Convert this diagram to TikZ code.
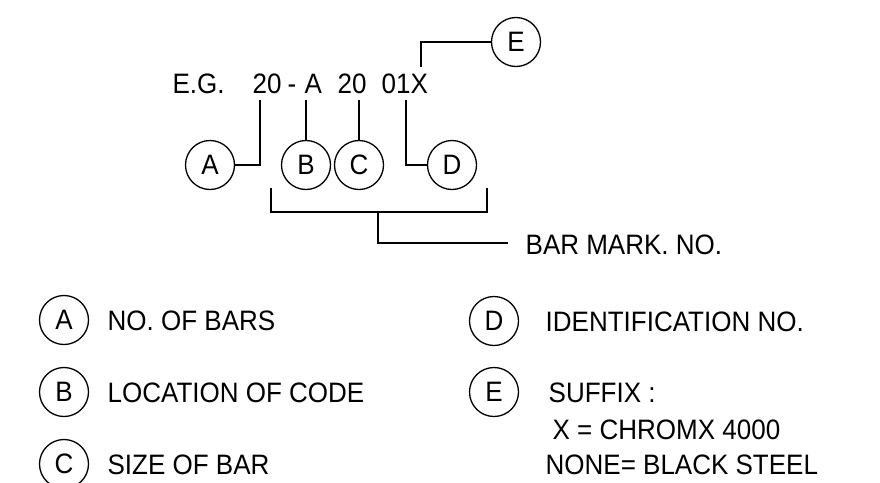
\documentclass[tikz,border=0pt]{standalone}
\usepackage{fontspec}
\usepackage{graphicx}
\setmainfont{Liberation Sans}
\newcommand{\vst}[1]{\scalebox{1}[1.08]{#1}}
\begin{document}
\begin{tikzpicture}[x=1pt,y=-1pt,line width=1.3pt,
  tag/.style={circle,draw,line width=1.3pt,minimum size=49pt,inner sep=0pt,font=\fontsize{26}{31}\selectfont},
  txt/.style={anchor=base west,inner sep=0pt,font=\fontsize{26}{31}\selectfont}]
\useasboundingbox (0,0) rectangle (880,482);
% example code
\node[txt] (eg) at (172,93) {\vst{E.G.}};
\node[txt] (n20a) at (252,93) {\vst{20}};
\node[txt] (dash) at (287,93) {\vst{-}};
\node[txt] (la) at (304,93) {\vst{A}};
\node[txt] (n20b) at (337,93) {\vst{20}};
\node[txt] (n01x) at (381,93) {\vst{01X}};
% circles
\node[tag] (A) at (210,165) {\vst{A}};
\node[tag] (B) at (306,165) {\vst{B}};
\node[tag] (C) at (359,165) {\vst{C}};
\node[tag] (D) at (452,165) {\vst{D}};
\node[tag] (E) at (516,42) {\vst{E}};
% leader start points
\coordinate (pa) at (260,100);
\coordinate (pb) at (306,100);
\coordinate (pc) at (359,100);
\coordinate (pd) at (406,100);
\coordinate (pe) at (421,67);
\draw (pa) |- (A.east);
\draw (pb) -- (B.north);
\draw (pc) -- (C.north);
\draw (pd) |- (D.west);
\draw (pe) |- (E.west);
% bracket
\coordinate (bl) at (271,188);
\coordinate (br) at (487,188);
\coordinate (bll) at (271,212);
\coordinate (brl) at (487,212);
\coordinate (bm) at (378,212);
\coordinate (bend) at (508,243);
\draw (bl) -- (bll) -- (brl) -- (br);
\draw (bm) |- (bend);
\node[txt] (bar) at (525,254) {\vst{BAR MARK. NO.}};
% legend
\node[tag] (LA) at (64,320) {\vst{A}};
\node[tag] (LB) at (64,392) {\vst{B}};
\node[tag] (LC) at (64,464) {\vst{C}};
\node[tag] (LD) at (494,321) {\vst{D}};
\node[tag] (LE) at (494,392) {\vst{E}};
\node[txt] (ta) at (107,330) {\vst{NO. OF BARS}};
\node[txt] (tb) at (107,402) {\vst{LOCATION OF CODE}};
\node[txt] (tc) at (107,474) {\vst{SIZE OF BAR}};
\node[txt] (td) at (545,331) {\vst{IDENTIFICATION NO.}};
\node[txt] (te1) at (548,402) {\vst{SUFFIX :}};
\node[txt] (te2) at (552,439) {\vst{X = CHROMX 4000}};
\node[txt] (te3) at (545,474) {\vst{NONE= BLACK STEEL}};
\end{tikzpicture}
\end{document}
